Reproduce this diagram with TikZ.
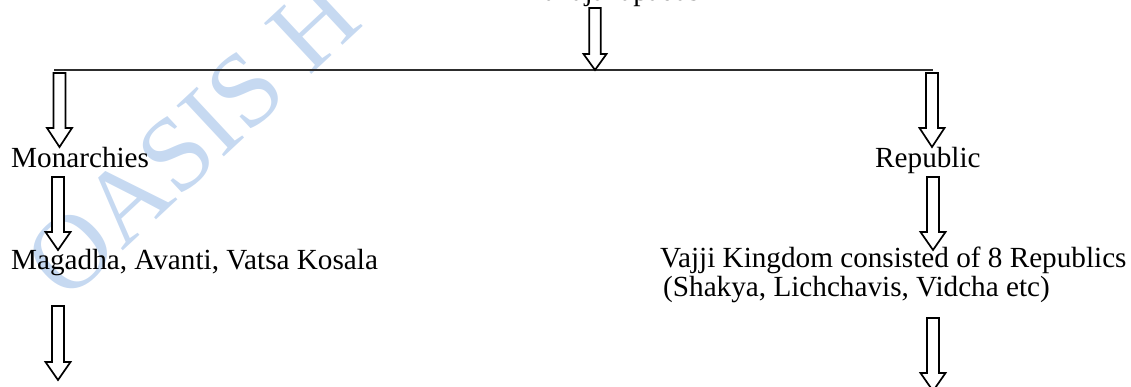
\documentclass[tikz,border=0pt]{standalone}
\usepackage{fontspec}
\setmainfont{Liberation Serif}
\usetikzlibrary{calc}
\definecolor{wmblue}{RGB}{198,217,241}
\definecolor{rulegray}{RGB}{45,45,45}
\tikzset{
  txt/.style={inner sep=0pt, font=\fontsize{29.2}{32}\selectfont, text=black},
  wm/.style={inner sep=0pt, font=\fontsize{106}{112}\selectfont, text=wmblue},
  rulestyle/.style={draw=rulegray, line width=2pt},
  % hollow block arrow: #1 half shaft width, #2 half head width, #3 head length
  blockarrow/.style n args={3}{draw=black, line width=1.7pt, fill=white, line join=miter,
    to path={let \p1=(\tikztostart), \p2=(\tikztotarget) in
      (\x1-#1pt,\y1) -- (\x1+#1pt,\y1) -- (\x1+#1pt,\y2+#3pt) -- (\x1+#2pt,\y2+#3pt)
      -- (\x1,\y2) -- (\x1-#2pt,\y2+#3pt) -- (\x1-#1pt,\y2+#3pt) -- cycle}},
}
\begin{document}
\begin{tikzpicture}[x=1pt,y=-1pt]
\path[use as bounding box, clip] (0,0) rectangle (1131,387);

% watermark
\node[wm, anchor=base west, rotate=43] (mark) at (66,304) {OASIS H};

% heading
\node[txt, anchor=base east] (root) at (700,0.6) {Mahajanapadas};

% branching rule
\coordinate (ruleL) at (54,70.5);
\coordinate (ruleR) at (933,70.5);
\draw[rulestyle] (ruleL) -- (ruleR);

% left branch
\node[txt, anchor=base west] (mon) at (11,168) {Monarchies};
\node[txt, anchor=base west] (mag) at (11,269) {Magadha, Avanti, Vatsa Kosala};

% right branch
\node[txt, anchor=base west] (rep) at (875,168) {Republic};
\node[txt, anchor=base west] (vaj) at (660,267) {Vajji Kingdom consisted of 8 Republics};
\node[txt, anchor=base west] (vajb) at (663,296) {(Shakya, Lichchavis, Vidcha etc)};

% arrow end points
\coordinate (a0s) at (595,8);   \coordinate (a0t) at (595,70);
\coordinate (l1s) at (59.5,73); \coordinate (l1t) at (59.5,147);
\coordinate (l2s) at (58,177);  \coordinate (l2t) at (58,250);
\coordinate (l3s) at (58,306);  \coordinate (l3t) at (58,380);
\coordinate (r1s) at (932,73);  \coordinate (r1t) at (932,147);
\coordinate (r2s) at (933,177); \coordinate (r2t) at (933,250);
\coordinate (r3s) at (933,318); \coordinate (r3t) at (933,391);

\draw[blockarrow={5.8}{11.5}{16}] (a0s) to (a0t);
\draw[blockarrow={6}{12.5}{19}] (l1s) to (l1t);
\draw[blockarrow={6}{12.5}{18}] (l2s) to (l2t);
\draw[blockarrow={6}{12.5}{18}] (l3s) to (l3t);
\draw[blockarrow={6}{12.5}{19}] (r1s) to (r1t);
\draw[blockarrow={6}{12.5}{18}] (r2s) to (r2t);
\draw[blockarrow={6}{12.5}{18}] (r3s) to (r3t);
\end{tikzpicture}
\end{document}
